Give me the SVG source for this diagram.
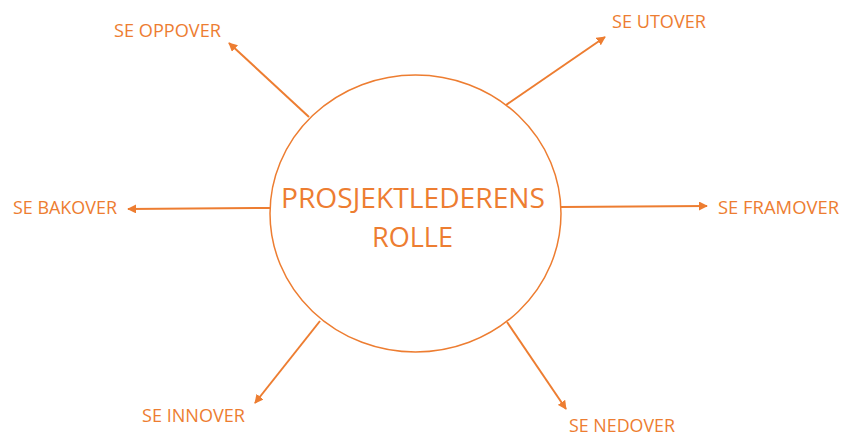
<svg xmlns="http://www.w3.org/2000/svg" width="847" height="437" viewBox="0 0 847 437">
  <style>
    .lbl { font-family: "Open Sans", "Liberation Sans", sans-serif; font-size: 18px; fill: #ED7D31; }
    .title { font-family: "Open Sans", "Liberation Sans", sans-serif; font-size: 27px; fill: #ED7D31; text-anchor: middle; }
    .arrow { stroke: #ED7D31; stroke-width: 2; fill: none; marker-end: url(#head); }
  </style>
  <defs>
    <marker id="head" viewBox="0 0 10 10" refX="9" refY="5" markerWidth="4.5" markerHeight="4.5" orient="auto" markerUnits="strokeWidth">
      <path d="M0,0 L10,5 L0,10 Z" fill="#ED7D31"/>
    </marker>
  </defs>
  <rect width="847" height="437" fill="#FFFFFF"/>

  <g id="connectors">
    <line class="arrow" x1="309" y1="117" x2="229" y2="43"/>
    <line class="arrow" x1="506" y1="105" x2="605" y2="37"/>
    <line class="arrow" x1="270" y1="208" x2="128" y2="209"/>
    <line class="arrow" x1="561" y1="207" x2="707" y2="206"/>
    <line class="arrow" x1="320" y1="321" x2="255" y2="403"/>
    <line class="arrow" x1="507" y1="322" x2="566" y2="409"/>
  </g>

  <g id="center">
    <ellipse cx="415.5" cy="213.5" rx="145.5" ry="138.5" fill="#FFFFFF" stroke="#ED7D31" stroke-width="1.5"/>
    <text class="title" x="413" y="208" textLength="264" lengthAdjust="spacingAndGlyphs">PROSJEKTLEDERENS</text>
    <text class="title" x="412.5" y="247" textLength="81" lengthAdjust="spacingAndGlyphs">ROLLE</text>
  </g>

  <g id="oppover"><text class="lbl" x="114" y="37" textLength="107" lengthAdjust="spacingAndGlyphs">SE OPPOVER</text></g>
  <g id="utover"><text class="lbl" x="612" y="28" textLength="94" lengthAdjust="spacingAndGlyphs">SE UTOVER</text></g>
  <g id="bakover"><text class="lbl" x="13" y="214" textLength="104" lengthAdjust="spacingAndGlyphs">SE BAKOVER</text></g>
  <g id="framover"><text class="lbl" x="718" y="214" textLength="121" lengthAdjust="spacingAndGlyphs">SE FRAMOVER</text></g>
  <g id="innover"><text class="lbl" x="142" y="422" textLength="103" lengthAdjust="spacingAndGlyphs">SE INNOVER</text></g>
  <g id="nedover"><text class="lbl" x="569" y="432" textLength="106" lengthAdjust="spacingAndGlyphs">SE NEDOVER</text></g>
</svg>
